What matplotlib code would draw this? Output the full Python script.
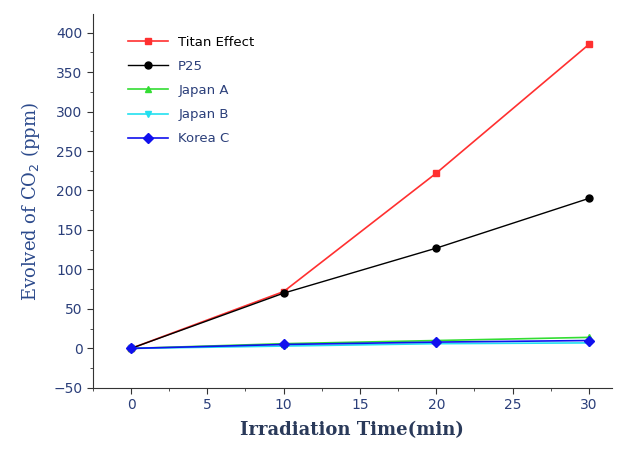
import numpy as np
import matplotlib.pyplot as plt
from matplotlib.ticker import MultipleLocator

# irradiation time (min)
time = [0, 10, 20, 30]

# evolved CO2 (ppm)
titan_effect = [0, 72, 222, 385]
p25 = [0, 70, 127, 190]
japan_a = [0, 6, 10, 14]
japan_b = [0, 3, 6, 7]
korea_c = [0, 5, 8, 10]

navy = '#2b3f7a'

fig = plt.figure(figsize=(6.36, 4.5), dpi=100)
ax = fig.add_axes([0.146, 0.138, 0.816, 0.83])

ax.plot(time, titan_effect, color='#ff3030', marker='s', ms=5, lw=1.2, label='Titan Effect')
ax.plot(time, p25, color='black', marker='o', ms=5, lw=1.0, label='P25')
ax.plot(time, japan_a, color='#33dd33', marker='^', ms=5, lw=1.2, label='Japan A')
ax.plot(time, japan_b, color='#22e0f0', marker='v', ms=5, lw=1.2, label='Japan B')
ax.plot(time, korea_c, color='#1010ee', marker='D', ms=5, lw=1.2, label='Korea C')

ax.set_xlim(-2.5, 31.5)
ax.set_ylim(-50, 423)
ax.xaxis.set_major_locator(MultipleLocator(5))
ax.xaxis.set_minor_locator(MultipleLocator(2.5))
ax.yaxis.set_major_locator(MultipleLocator(50))
ax.yaxis.set_minor_locator(MultipleLocator(25))

for side in ['top', 'right']:
    ax.spines[side].set_visible(False)
for side in ['left', 'bottom']:
    ax.spines[side].set_color('#333333')

ax.tick_params(which='major', direction='out', length=4, colors='#333333',
               labelcolor=navy, labelsize=10)
ax.tick_params(which='minor', direction='out', length=2, colors='#333333')

ax.set_xlabel('Irradiation Time(min)', family='DejaVu Serif', fontsize=13,
              color='#2a3a5a', fontweight='bold', labelpad=6)
ax.set_ylabel('Evolved of CO$_2$ (ppm)', family='DejaVu Serif', fontsize=13,
              color='#2c4a8c', labelpad=8)

leg = ax.legend(loc='upper left', bbox_to_anchor=(0.045, 0.975), frameon=False,
                fontsize=9.5, handlelength=3, labelspacing=0.85)
for t in leg.get_texts():
    t.set_color(navy)
leg.get_texts()[0].set_color('black')

fig.savefig('out.png', dpi=100)
